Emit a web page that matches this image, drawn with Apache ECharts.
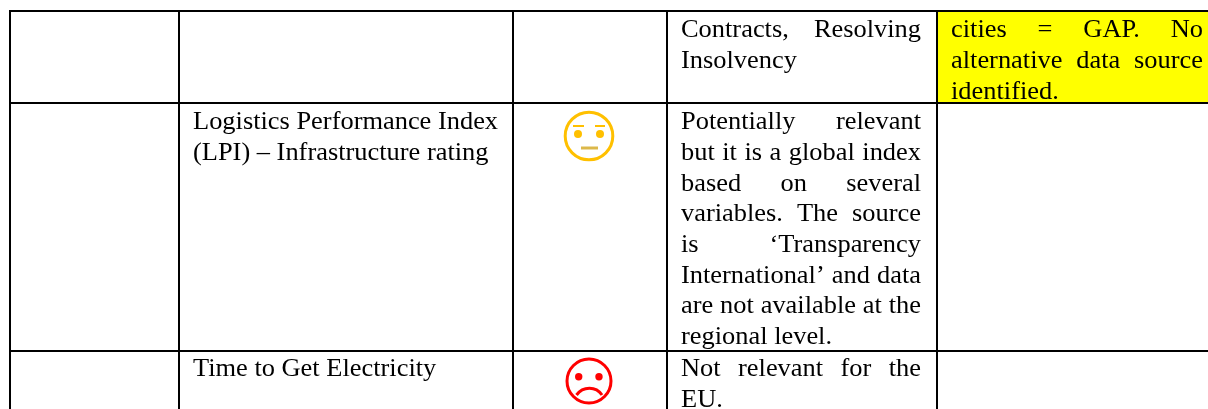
<!DOCTYPE html>
<html>
<head>
<meta charset="utf-8">
<style>
  html, body { margin: 0; padding: 0; background: #fff; }
  #main { width: 1208px; height: 409px; }
</style>
</head>
<body>
<div id="main"></div>
<script src="https://cdn.jsdelivr.net/npm/echarts@6/dist/echarts.min.js"></script>
<script>
// table text, line by line as it wraps in the source
const indicatorLines = [
  ['Logistics Performance Index', 1, 0],
  ['(LPI) – Infrastructure rating', 1, 1],
  ['Time to Get Electricity', 2, 0]
]
const noteLines = [
  ['Contracts, Resolving', 0, 0, true],
  ['Insolvency', 0, 1, false],
  ['Potentially relevant', 1, 0, true],
  ['but it is a global index', 1, 1, true],
  ['based on several', 1, 2, true],
  ['variables. The source', 1, 3, true],
  ['is ‘Transparency', 1, 4, true],
  ['International’ and data', 1, 5, true],
  ['are not available at the', 1, 6, true],
  ['regional level.', 1, 7, false],
  ['Not relevant for the', 2, 0, true],
  ['EU.', 2, 1, false]
]
const gapLines = [
  ['cities = GAP. No', 0, 0, true],
  ['alternative data source', 0, 1, true],
  ['identified.', 0, 2, false]
]
const ratings = [
  ['neutral', 1],
  ['bad', 2]
]

// table geometry in page pixels, the axes below map 1:1
const colEdges = [10, 179, 513, 667, 937, 1209]
const rowEdges = [11, 103, 351, 410]
const rowBaselines = [36, 128, 375]
const linePitch = 30.7
const fontSize = 24.8
// the source scan is stretched sideways a bit
const stretchX = 1.065
const fontFamily = '"Liberation Serif", serif'

const ctx = document.createElement('canvas').getContext('2d')
ctx.font = fontSize + 'px ' + fontFamily
const measure = (s) => ctx.measureText(s).width * stretchX

// y is the baseline, zrender draws from the middle of the line
const textEl = (api, text, x, y) => {
  const p = api.coord([x, y - fontSize * 0.21])
  return {
    type: 'text',
    x: p[0],
    y: p[1],
    scaleX: stretchX,
    style: { x: 0, y: 0, text, fill: '#000', font: fontSize + 'px ' + fontFamily, textAlign: 'left', verticalAlign: 'middle' }
  }
}

// justified lines are placed word by word like Word does it
const lineEls = (api, text, x0, x1, y, justify) => {
  if (!justify) return [textEl(api, text, x0, y)]
  const words = text.split(' ')
  const total = words.reduce((s, w) => s + measure(w), 0)
  const gap = (x1 - x0 - total) / (words.length - 1)
  let x = x0
  return words.map((w) => {
    const el = textEl(api, w, x, y)
    x += measure(w) + gap
    return el
  })
}

const renderGrid = (params, api) => {
  const children = []
  const line = (a, b) => {
    const p = api.coord(a)
    const q = api.coord(b)
    return { type: 'line', shape: { x1: p[0], y1: p[1], x2: q[0], y2: q[1] }, style: { stroke: '#000', lineWidth: 2 } }
  }
  const a = api.coord([colEdges[4], rowEdges[0]])
  const b = api.coord([colEdges[5], rowEdges[1]])
  children.push({ type: 'rect', shape: { x: a[0], y: a[1], width: b[0] - a[0], height: b[1] - a[1] }, style: { fill: '#ffff00' } })
  rowEdges.slice(0, 3).forEach((y) => children.push(line([colEdges[0] - 1, y], [colEdges[5], y])))
  colEdges.slice(0, 5).forEach((x) => children.push(line([x, rowEdges[0]], [x, rowEdges[3]])))
  return { type: 'group', children }
}

const renderText = (params, api) => {
  const children = []
  indicatorLines.forEach(([t, r, i]) => {
    children.push(...lineEls(api, t, 193, 498, rowBaselines[r] + i * linePitch, false))
  })
  noteLines.forEach(([t, r, i, j]) => {
    children.push(...lineEls(api, t, 681, 921, rowBaselines[r] + i * linePitch, j))
  })
  gapLines.forEach(([t, r, i, j]) => {
    children.push(...lineEls(api, t, 951, 1203, rowBaselines[r] + i * linePitch, j))
  })
  return { type: 'group', children }
}

const renderFace = (params, api) => {
  const kind = ratings[params.dataIndex][0]
  const c = api.coord([589, kind === 'bad' ? 381 : 136])
  const x = c[0]
  const y = c[1]
  if (kind === 'neutral') {
    const col = '#ffc000'
    return {
      type: 'group',
      children: [
        { type: 'circle', shape: { cx: x, cy: y, r: 23.8 }, style: { fill: 'none', stroke: col, lineWidth: 3 } },
        { type: 'circle', shape: { cx: x - 11, cy: y - 2, r: 4 }, style: { fill: col } },
        { type: 'circle', shape: { cx: x + 11, cy: y - 2, r: 4 }, style: { fill: col } },
        { type: 'line', shape: { x1: x - 16, y1: y - 10, x2: x - 5, y2: y - 10 }, style: { stroke: col, lineWidth: 2 } },
        { type: 'line', shape: { x1: x + 6, y1: y - 10, x2: x + 16, y2: y - 10 }, style: { stroke: col, lineWidth: 2 } },
        { type: 'line', shape: { x1: x - 8, y1: y + 12, x2: x + 9, y2: y + 12 }, style: { stroke: '#dcb84a', lineWidth: 3 } }
      ]
    }
  }
  const col = '#ff0000'
  return {
    type: 'group',
    children: [
      { type: 'circle', shape: { cx: x, cy: y, r: 22 }, style: { fill: 'none', stroke: col, lineWidth: 3 } },
      { type: 'circle', shape: { cx: x - 10.3, cy: y - 4.3, r: 3.7 }, style: { fill: col } },
      { type: 'circle', shape: { cx: x + 10, cy: y - 4.3, r: 3.7 }, style: { fill: col } },
      { type: 'bezierCurve', shape: { x1: x - 12.5, y1: y + 14, cpx1: x - 6, cpy1: y + 5, cpx2: x + 7, cpy2: y + 5, x2: x + 13, y2: y + 14 }, style: { fill: 'none', stroke: col, lineWidth: 3 } }
    ]
  }
}

const chart = echarts.init(document.getElementById('main'))
chart.setOption({
  animation: false,
  backgroundColor: '#fff',
  grid: { left: 0, right: 0, top: 0, bottom: 0 },
  xAxis: { type: 'value', min: 0, max: 1208, show: false },
  yAxis: { type: 'value', min: 0, max: 409, inverse: true, show: false },
  series: [
    { type: 'custom', silent: true, clip: true, data: [[0, 0]], renderItem: renderGrid, z: 1 },
    { type: 'custom', silent: true, clip: true, data: [[0, 0]], renderItem: renderText, z: 2 },
    { type: 'custom', silent: true, clip: true, data: ratings.map((r) => [0, r[1]]), renderItem: renderFace, z: 3 }
  ]
})
window.addEventListener('resize', () => chart.resize())
</script>
</body>
</html>
